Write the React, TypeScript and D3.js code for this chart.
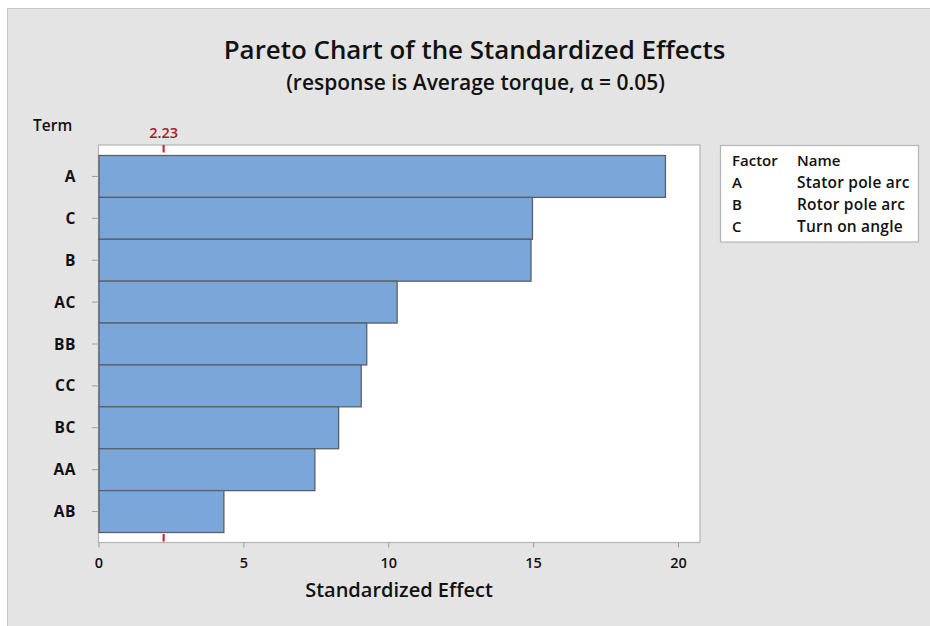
import React from "react";
import * as d3 from "d3";

// Terms in Pareto order (largest effect first) and their standardized effects
const terms = ["A", "C", "B", "AC", "BB", "CC", "BC", "AA", "AB"];
const effects = [19.55, 14.96, 14.91, 10.29, 9.24, 9.05, 8.27, 7.45, 4.31];
const xTicks = [0, 5, 10, 15, 20];
const refValue = 2.23;
const refLabel = "2.23";

const factorCodes = ["A", "B", "C"];
const factorNames = ["Stator pole arc", "Rotor pole arc", "Turn on angle"];

const W = 930;
const H = 626;
const FONT = "'Open Sans', 'Noto Sans', sans-serif";

export default function App() {
  const plot = { left: 98.5, right: 700, top: 145, bottom: 542.5 };

  const x = d3.scaleLinear().domain([0, 20]).range([99, 678.5]);
  const y = d3
    .scaleBand<string>()
    .domain(terms)
    .range([155.5, 532.5])
    .paddingInner(0)
    .paddingOuter(0);

  const rows = terms.map((t, i) => ({ term: t, value: effects[i] }));

  return (
    <svg
      width={W}
      height={H}
      style={{ position: "absolute", left: 0, top: 0, fontFamily: FONT }}
    >
      <rect x={0} y={0} width={W} height={H} fill="#ffffff" />
      <rect x={7.5} y={8.5} width={W} height={H} fill="#e4e4e4" stroke="#c8c8c8" strokeWidth={1} />

      {/* titles */}
      <text x={474.5} y={58.5} textAnchor="middle" fontSize={25.9} fontWeight={600} fill="#111">
        Pareto Chart of the Standardized Effects
      </text>
      <text x={475.5} y={89.5} textAnchor="middle" fontSize={21} fontWeight={600} fill="#111">
        (response is Average torque, α = 0.05)
      </text>

      {/* plot area */}
      <rect
        x={plot.left}
        y={plot.top}
        width={plot.right - plot.left}
        height={plot.bottom - plot.top}
        fill="#ffffff"
        stroke="#b4b4b4"
        strokeWidth={1.2}
      />

      {/* bars */}
      {rows.map((r) => (
        <rect
          key={r.term}
          x={x(0)}
          y={y(r.term)!}
          width={x(r.value) - x(0)}
          height={y.bandwidth()}
          fill="#7ba6d9"
          stroke="#5b6068"
          strokeWidth={1.3}
        />
      ))}

      {/* y ticks and labels */}
      {terms.map((t) => {
        const cy = y(t)! + y.bandwidth() / 2;
        return (
          <g key={t}>
            <line x1={92} x2={97.5} y1={cy} y2={cy} stroke="#9a9a9a" strokeWidth={1} />
            <text
              x={76}
              y={cy + 5.5}
              textAnchor="end"
              fontSize={15.5}
              fontWeight={700}
              fill="#111"
              letterSpacing={0.6}
            >
              {t}
            </text>
          </g>
        );
      })}
      <text x={33} y={131} fontSize={15.5} fontWeight={600} fill="#111">
        Term
      </text>

      {/* x ticks and labels */}
      {xTicks.map((v) => (
        <g key={v}>
          <line x1={x(v)} x2={x(v)} y1={plot.bottom} y2={plot.bottom + 5} stroke="#9a9a9a" strokeWidth={1} />
          <text x={x(v)} y={567.5} textAnchor="middle" fontSize={14.5} fontWeight={600} fill="#111">
            {v}
          </text>
        </g>
      ))}
      <text x={399} y={597} textAnchor="middle" fontSize={20} fontWeight={600} fill="#111">
        Standardized Effect
      </text>

      {/* significance reference marks */}
      <line x1={x(refValue)} x2={x(refValue)} y1={plot.top} y2={plot.top + 7.5} stroke="#d3131e" strokeWidth={2} />
      <line x1={x(refValue)} x2={x(refValue)} y1={534} y2={541.5} stroke="#d3131e" strokeWidth={2} />
      <text x={x(refValue)} y={138} textAnchor="middle" fontSize={14.5} fontWeight={600} fill="#a41e2a">
        {refLabel}
      </text>

      {/* legend */}
      <rect x={720.5} y={145.5} width={198} height={96.5} fill="#ffffff" stroke="#b4b4b4" strokeWidth={1.2} />
      <text x={732} y={166} fontSize={15} fontWeight={600} fill="#111">Factor</text>
      <text x={797} y={166} fontSize={15} fontWeight={600} fill="#111">Name</text>
      {factorCodes.map((c, i) => (
        <g key={c}>
          <text x={732} y={188 + i * 21.8} fontSize={15} fontWeight={600} fill="#111">{c}</text>
          <text x={797} y={188 + i * 21.8} fontSize={15.5} fontWeight={600} fill="#111" letterSpacing={0.2}>
            {factorNames[i]}
          </text>
        </g>
      ))}
    </svg>
  );
}
